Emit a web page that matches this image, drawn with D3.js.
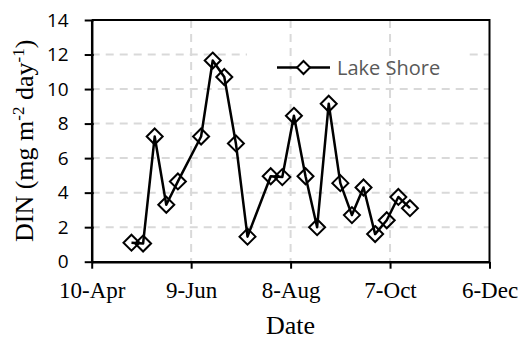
<!DOCTYPE html>
<html>
<head>
<meta charset="utf-8">
<script src="https://cdn.jsdelivr.net/npm/d3@7"></script>
<style>
  html, body { margin: 0; padding: 0; background: #fff; }
  svg { display: block; }
</style>
</head>
<body>
<svg id="chart" width="523" height="339"></svg>
<script>
// ---- data ----
const dates = ["2015-05-04","2015-05-11","2015-05-18","2015-05-25","2015-06-01",
  "2015-06-15","2015-06-22","2015-06-29","2015-07-06","2015-07-13",
  "2015-07-27","2015-08-03","2015-08-10","2015-08-17","2015-08-24",
  "2015-08-31","2015-09-07","2015-09-14","2015-09-21","2015-09-28",
  "2015-10-05","2015-10-12","2015-10-19"];
const din = [1.1, 1.05, 7.25, 3.3, 4.65,
  7.25, 11.65, 10.7, 6.85, 1.45,
  4.95, 4.9, 8.45, 4.95, 2.0,
  9.15, 4.55, 2.7, 4.3, 1.6,
  2.4, 3.75, 3.1];
const xTickDates = ["2015-04-10","2015-06-09","2015-08-08","2015-10-07","2015-12-06"];
const yTicks = [0, 2, 4, 6, 8, 10, 12, 14];
const seriesName = "Lake Shore";

// ---- layout ----
const svg = d3.select("#chart");
const pL = 91.7, pR = 489.5, pT = 20, pB = 261.7;
const parse = d3.utcParse("%Y-%m-%d");
const xTicks = xTickDates.map(parse);
const x = d3.scaleUtc().domain([xTicks[0], xTicks[xTicks.length - 1]]).range([pL, pR]);
const y = d3.scaleLinear().domain([0, 14]).range([pB, pT]);
const data = dates.map((d, i) => ({ date: parse(d), v: din[i] }));

// horizontal gridlines
svg.append("g").selectAll("line").data(yTicks.filter(t => t > 0 && t < 14)).join("line")
  .attr("x1", pL).attr("x2", pR)
  .attr("y1", d => y(d)).attr("y2", d => y(d))
  .attr("stroke", "#d9d9d9").attr("stroke-width", 2).attr("stroke-dasharray", "8,6");

// legend area masks the 12 gridline
svg.append("rect").attr("x", 247).attr("y", 49).attr("width", 221).attr("height", 11).attr("fill", "#fff");

// vertical gridlines
svg.append("g").selectAll("line").data(xTicks.slice(1, -1)).join("line")
  .attr("x1", d => x(d)).attr("x2", d => x(d))
  .attr("y1", pT).attr("y2", pB)
  .attr("stroke", "#d9d9d9").attr("stroke-width", 2).attr("stroke-dasharray", "8,6");

// plot border (top/right)
svg.append("path")
  .attr("d", `M${pL},${pT}H${pR}V${pB}`)
  .attr("fill", "none").attr("stroke", "#000").attr("stroke-width", 2);

// x axis
const xAxis = svg.append("g").attr("transform", `translate(0,${pB})`)
  .call(d3.axisBottom(x).tickValues(xTicks).tickFormat(d3.utcFormat("%-d-%b")).tickSize(7).tickSizeOuter(0));
xAxis.select(".domain").attr("stroke", "#000").attr("stroke-width", 2.5);
xAxis.selectAll(".tick line").attr("stroke", "#000").attr("stroke-width", 2);
xAxis.selectAll(".tick text")
  .attr("font-family", "'Liberation Serif','Times New Roman',serif")
  .attr("font-size", 23).attr("fill", "#000").attr("dy", null).attr("y", 36);

// y axis
const yAxis = svg.append("g").attr("transform", `translate(${pL},0)`)
  .call(d3.axisLeft(y).tickValues(yTicks).tickSize(7).tickSizeOuter(0).tickPadding(16));
yAxis.select(".domain").attr("stroke", "#000").attr("stroke-width", 2.5);
yAxis.selectAll(".tick line").attr("stroke", "#000").attr("stroke-width", 2).attr("x2", 2).attr("x1", -7);
yAxis.selectAll(".tick text")
  .attr("font-family", "'Open Sans',sans-serif")
  .attr("font-size", 19).attr("fill", "#000");

// axis titles
svg.append("text").attr("x", (pL + pR) / 2).attr("y", 334)
  .attr("text-anchor", "middle")
  .attr("font-family", "'Liberation Serif','Times New Roman',serif")
  .attr("font-size", 26).attr("fill", "#000").text("Date");

const yt = svg.append("text")
  .attr("transform", `translate(33,${(pT + pB) / 2}) rotate(-90)`)
  .attr("text-anchor", "middle")
  .attr("font-family", "'Liberation Serif','Times New Roman',serif")
  .attr("font-size", 26).attr("fill", "#000");
yt.append("tspan").text("DIN (mg m");
yt.append("tspan").attr("baseline-shift", "super").attr("font-size", 17).text("-2");
yt.append("tspan").text(" day");
yt.append("tspan").attr("baseline-shift", "super").attr("font-size", 17).text("-1");
yt.append("tspan").text(")");

// series line
const line = d3.line().x(d => x(d.date)).y(d => y(d.v));
svg.append("path").datum(data).attr("d", line)
  .attr("fill", "none").attr("stroke", "#000").attr("stroke-width", 2.5).attr("stroke-linejoin", "round");

// markers
const diamond = (s) => `M0,${-s}L${s},0L0,${s}L${-s},0Z`;
svg.append("g").selectAll("path").data(data).join("path")
  .attr("transform", d => `translate(${x(d.date)},${y(d.v)})`)
  .attr("d", diamond(8))
  .attr("fill", "none").attr("stroke", "#000").attr("stroke-width", 2);

// legend
const lg = svg.append("g");
lg.append("line").attr("x1", 277).attr("x2", 330).attr("y1", 67.5).attr("y2", 67.5)
  .attr("stroke", "#000").attr("stroke-width", 2.5);
lg.append("path").attr("transform", "translate(303.5,67.5)").attr("d", diamond(6.5))
  .attr("fill", "#fff").attr("stroke", "#000").attr("stroke-width", 2);
lg.append("text").attr("x", 337).attr("y", 74.5)
  .attr("font-family", "'Open Sans',sans-serif").attr("font-size", 20)
  .attr("fill", "#595959").text(seriesName);
</script>
</body>
</html>
